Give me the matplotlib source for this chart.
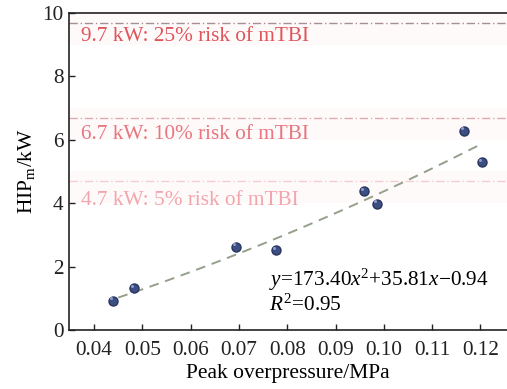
import matplotlib
matplotlib.use('Agg')
import matplotlib.pyplot as plt
import numpy as np

# measured points
pressure = [0.0440, 0.0483, 0.0693, 0.0777, 0.0958, 0.0986, 0.1165, 0.1203]
hip = [0.92, 1.31, 2.62, 2.52, 4.37, 3.99, 6.29, 5.29]

# quadratic fit shown on the chart
fit_coef = [173.40, 35.81, -0.94]
fit_range = [0.045, 0.1195]

# mTBI risk thresholds
thresholds = [9.7, 6.7, 4.7]
threshold_labels = ['9.7 kW: 25% risk of mTBI',
                    '6.7 kW: 10% risk of mTBI',
                    '4.7 kW: 5% risk of mTBI']
label_y = [9.13, 6.03, 3.95]
line_colors = ['#a89090', '#dcaab0', '#f2cdd3']
text_colors = ['#e0545c', '#e8757f', '#f3a5ad']

xticks = [0.04, 0.05, 0.06, 0.07, 0.08, 0.09, 0.10, 0.11, 0.12]
yticks = [0, 2, 4, 6, 8, 10]

plt.rcParams['font.family'] = ['Liberation Serif', 'DejaVu Serif']
plt.rcParams['mathtext.fontset'] = 'custom'
plt.rcParams['mathtext.rm'] = 'Liberation Serif'
plt.rcParams['mathtext.it'] = 'Liberation Serif:italic'

fig = plt.figure(figsize=(5.07, 3.89), dpi=100)
ax = fig.add_axes([69 / 507, 1 - 330 / 389, 1 - 69 / 507, (330 - 13) / 389])

for val, lab, ly, lc, tc in zip(thresholds, threshold_labels, label_y, line_colors, text_colors):
    ax.axhspan(val - 0.7, val + 0.3, color='#fffafa', zorder=0, lw=0)
    ax.axhline(val, color=lc, linestyle=(0, (6, 2, 1, 2)), linewidth=1.0, zorder=1)
    ax.text(0.0372, ly, lab, color=tc, fontsize=15.3, va='baseline', ha='left')

xs = np.linspace(fit_range[0], fit_range[1], 100)
ax.plot(xs, np.polyval(fit_coef, xs), color='#94a08c', linestyle=(0, (5, 3.5)),
        linewidth=1.4, zorder=2)

ax.plot(pressure, hip, 'o', color='#3b4f82', markeredgecolor='#2a3560',
        markersize=6.5, zorder=3)
ax.plot(np.array(pressure) - 0.0004, np.array(hip) + 0.08, 'o', color='#8a9ccc',
        markersize=2.2, markeredgewidth=0, zorder=4)

ax.text(0.0762, 1.38, r'$y$=173.40$x^2$+35.81$x$−0.94', fontsize=15.3, va='baseline')
ax.text(0.0762, 0.6, r'$R^2$=0.95', fontsize=15.3, va='baseline')

ax.set_xlim(0.0348, 0.1255)
ax.set_ylim(0, 10)
ax.set_xticks(xticks)
ax.set_xticklabels(['%.2f' % t for t in xticks])
ax.set_yticks(yticks)
ax.tick_params(direction='in', length=4, width=1, labelsize=15.3, colors='#222222', pad=8)
ax.tick_params(axis='y', pad=4)
for s in ['left', 'bottom', 'top']:
    ax.spines[s].set_linewidth(1.2)
    ax.spines[s].set_color('#222222')
ax.spines['right'].set_visible(False)

ax.set_xlabel('Peak overpressure/MPa', fontsize=15.5, labelpad=3)
ax.set_ylabel(r'HIP$_\mathrm{m}$/kW', fontsize=15.5, labelpad=4)

fig.savefig('out.png', dpi=100)
